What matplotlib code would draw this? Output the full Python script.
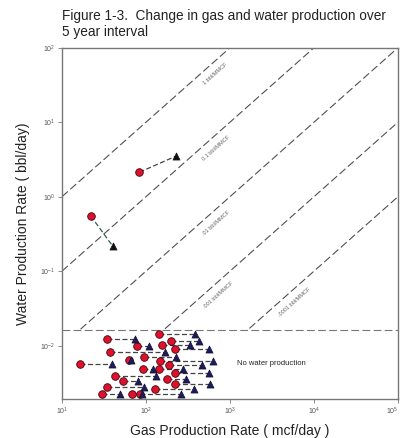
import numpy as np
import matplotlib
matplotlib.use("Agg")
import matplotlib.pyplot as plt

plt.rcParams['font.family'] = ['Liberation Sans', 'DejaVu Sans']

# ---- data ----
title = "Figure 1-3.  Change in gas and water production over\n5 year interval"
x_label = "Gas Production Rate ( mcf/day )"
y_label = "Water Production Rate ( bbl/day)"
x_ticks = [1e1, 1e2, 1e3, 1e4, 1e5]
y_ticks = [1e-2, 1e-1, 1e0, 1e1, 1e2]

# constant water/gas ratio lines (bbl/mcf) and their labels
ratio_values = [1e-1, 1e-2, 1e-3, 1e-4, 1e-5]
ratio_labels = ["1 bbl/MMCF", "0.1 bbl/MMCF", ".01 bbl/MMCF", ".001 bbl/MMCF", ".0001 bbl/MMCF"]
ratio_label_gas = [560, 560, 560, 600, 4800]

no_water_level = 0.0163

# wells with measurable water: start (circle) and end (triangle)
wet_gas_start = [83.6, 22.0]
wet_water_start = [2.13, 0.55]
wet_gas_end = [230, 40]
wet_water_end = [3.52, 0.218]

# wells with no water production (plotted in the bottom band)
dry_gas_start = [141, 34.3, 196, 77.6, 155, 37.6, 219, 95.9, 62.2, 148, 16.3, 186,
                 91.6, 141, 224, 43.2, 53.8, 177, 34.3, 221, 129, 29.6, 68.4, 85.3]
dry_gas_end = [388, 74.8, 429, 110, 332, 167, 561, 230, 66.0, 631, 39.4, 458,
               120, 276, 565, 132, 79.8, 300, 94.2, 575, 371, 49.5, 90.0, 264]
dry_band_y = [0.01436, 0.01230, 0.01167, 0.00991, 0.01021, 0.00830, 0.00895, 0.00711,
              0.00643, 0.00629, 0.00562, 0.00551, 0.00486, 0.00482, 0.00427, 0.00392,
              0.00339, 0.00354, 0.00277, 0.00303, 0.00260, 0.00225, 0.00225, 0.00225]

no_water_text = "No water production"

# ---- figure ----
fig = plt.figure(figsize=(4.02, 4.38), dpi=100)
ax = fig.add_axes([62/402, 1-399/438, (398-62)/402, (399-47.7)/438])
ax.set_xscale('log')
ax.set_yscale('log')
ax.set_xlim(1e1, 1e5)
ax.set_ylim(0.00192, 1e2)

for s in ax.spines.values():
    s.set_color('#777777')
    s.set_linewidth(1.0)

ax.set_xticks(x_ticks)
ax.set_yticks(y_ticks)
ax.minorticks_off()
ax.tick_params(axis='both', direction='out', length=3, width=0.6, color='#777777',
               labelsize=5, labelcolor='#555555', pad=2)

# ratio lines, clipped at the no-water level
xs = np.logspace(1, 5, 200)
for r in ratio_values:
    yy = r * xs
    m = yy >= no_water_level
    ax.plot(xs[m], yy[m], linestyle=(0, (7, 3)), color='#505050', lw=0.8)

ax.axhline(no_water_level, linestyle=(0, (7, 3)), color='#777777', lw=0.8)

fig.canvas.draw()
# keep the last x tick label inside the figure
xt = ax.get_xticklabels()
xt[-1].set_horizontalalignment('right')
xt[-1].set_x(1e5)

p0 = ax.transData.transform((10, 1))
p1 = ax.transData.transform((1000, 100))
ang = np.degrees(np.arctan2(p1[1]-p0[1], p1[0]-p0[0]))
th = np.radians(ang)
off = (7.5*np.sin(th), -7.5*np.cos(th))
for r, lab, g in zip(ratio_values, ratio_labels, ratio_label_gas):
    ax.annotate(lab, (g, r*g), xytext=off, textcoords='offset points',
                rotation=ang, rotation_mode='anchor', ha='center', va='center',
                fontsize=4, color='#666666')

# connectors
for gs, ws, ge, we, c in zip(wet_gas_start, wet_water_start, wet_gas_end, wet_water_end,
                             ['#444444', '#2f5f5a']):
    ax.plot([gs, ge], [ws, we], linestyle=(0, (4, 2)), color=c, lw=0.9, zorder=2)
for gs, ge, y in zip(dry_gas_start, dry_gas_end, dry_band_y):
    ax.plot([gs, ge], [y, y], linestyle=(0, (4, 2)), color='#444444', lw=0.9, zorder=2)

ax.scatter(wet_gas_start, wet_water_start, s=30, marker='o', color='#e0102d',
           edgecolor='#3a0a10', linewidth=0.6, zorder=3)
ax.scatter(wet_gas_end, wet_water_end, s=26, marker='^', color='#111111',
           edgecolor='#111111', linewidth=0.5, zorder=3)
ax.scatter(dry_gas_start, dry_band_y, s=30, marker='o', color='#e0102d',
           edgecolor='#3a0a10', linewidth=0.6, zorder=3)
ax.scatter(dry_gas_end, dry_band_y, s=26, marker='^', color='#1c1c5a',
           edgecolor='#111133', linewidth=0.5, zorder=3)

ax.text(1200, 0.0058, no_water_text, fontsize=5.5, color='#222222', ha='left', va='center')

ax.set_xlabel(x_label, fontsize=10, color='#222222', labelpad=5)
ax.set_ylabel(y_label, fontsize=10, color='#222222', labelpad=7)
fig.text(62/402, 1-9/438, title, fontsize=9.8, color='#222222', ha='left', va='top',
         linespacing=1.15)

fig.savefig('out.png', dpi=100)
